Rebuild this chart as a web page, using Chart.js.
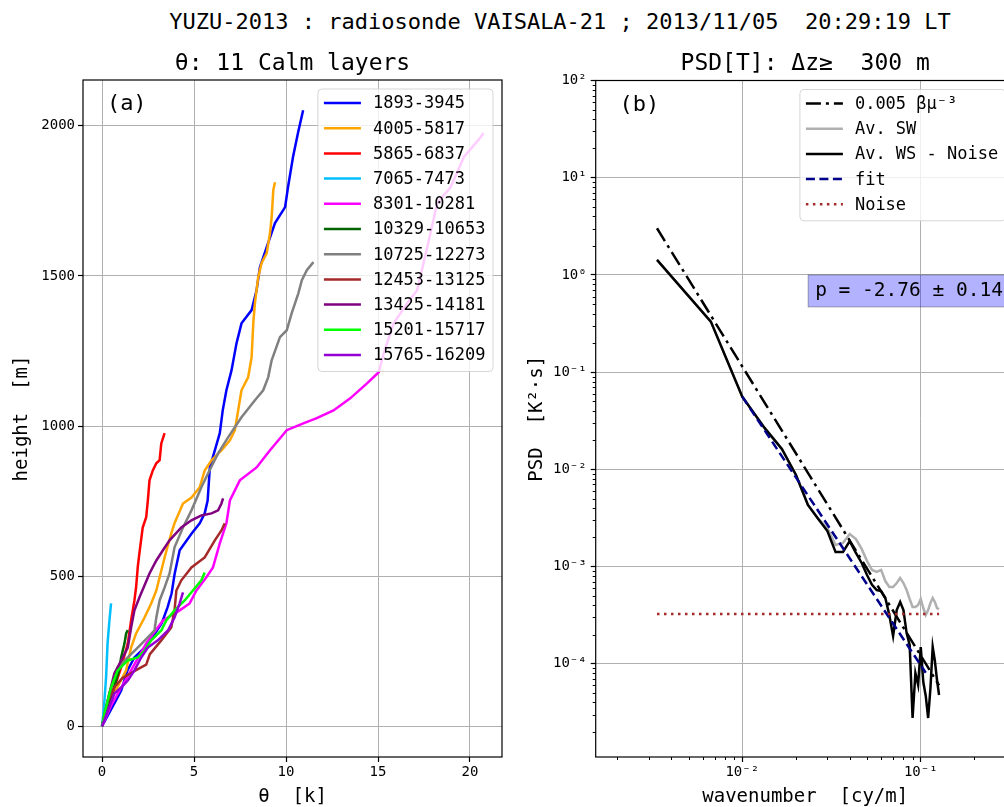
<!DOCTYPE html>
<html lang="en">
<head>
<meta charset="UTF-8">
<title>YUZU-2013 radiosonde VAISALA-21</title>
<script src="https://cdn.jsdelivr.net/npm/chart.js"></script>
<style>
  html, body { margin: 0; padding: 0; background: #fff; overflow: hidden; width: 1004px; height: 807px; }
  #suptitle {
    position: absolute; left: 0; top: 9px; width: 1120px; line-height: 26px;
    text-align: center; white-space: pre; color: #000;
    font: 22px 'DejaVu Sans Mono', monospace;
  }
  #left { position: absolute; left: 0; top: 0; }
  #right { position: absolute; left: 520px; top: 0; }
</style>
</head>
<body>
<div id="suptitle">YUZU-2013 : radiosonde VAISALA-21 ; 2013/11/05  20:29:19 LT</div>
<canvas id="left" width="520" height="807"></canvas>
<canvas id="right" width="520" height="807"></canvas>

<script>
// ---- panel (a): potential temperature excess vs height, one array per calm layer  [theta K, height m]
const layerNames = ['1893-3945', '4005-5817', '5865-6837', '7065-7473', '8301-10281', '10329-10653',
                    '10725-12273', '12453-13125', '13425-14181', '15201-15717', '15765-16209'];
const layerColors = ['#0000ff', '#ffa500', '#ff0000', '#00bfff', '#ff00ff', '#006400',
                     '#808080', '#a52a2a', '#800080', '#00ff00', '#9400d3'];

const layer1893 = [[0,0],[0.35,40],[0.67,76],[1.04,119],[1.38,186],[1.76,229],[2.31,262],[2.74,296],[3.24,342],
  [3.56,396],[3.78,442],[3.95,509],[4.22,586],[4.87,642],[5.31,676],[5.58,709],[5.74,752],[5.86,862],[6.13,919],
  [6.4,976],[6.56,1052],[6.76,1119],[7.04,1186],[7.31,1276],[7.58,1342],[8.13,1386],[8.4,1452],[8.58,1529],
  [8.95,1596],[9.4,1676],[9.95,1729],[10.11,1796],[10.38,1896],[10.65,1976],[10.93,2052]];
const layer4005 = [[0,0],[0.5,90],[1.31,186],[1.58,262],[1.85,309],[2.31,362],[2.67,409],[2.95,452],[3.13,496],
  [3.4,562],[3.76,642],[3.94,676],[4.4,742],[4.86,762],[5.31,796],[5.58,852],[5.95,886],[6.49,919],[6.95,952],
  [7.22,986],[7.31,1019],[7.49,1086],[7.58,1119],[7.94,1162],[8.13,1229],[8.22,1342],[8.31,1409],[8.49,1496],
  [8.67,1542],[8.95,1576],[9.13,1642],[9.22,1696],[9.31,1786],[9.4,1812]];
const layer5865 = [[0,0],[0.3,60],[0.67,129],[1.04,196],[1.4,276],[1.58,352],[1.76,419],[1.85,462],[1.94,529],
  [2.03,576],[2.21,662],[2.4,696],[2.49,752],[2.58,819],[2.76,852],[2.95,876],[3.13,886],[3.22,942],[3.4,976]];
const layer7065 = [[0,0],[0.1,60],[0.22,163],[0.3,276],[0.4,352],[0.49,409]];
const layer8301 = [[0,0],[0.5,70],[0.95,119],[1.67,196],[2.4,276],[3.31,352],[4.22,386],[4.76,409],[5.13,452],
  [5.67,496],[6.03,529],[6.4,609],[6.76,676],[6.95,752],[7.49,819],[8.4,862],[9.13,919],[10.04,986],[10.94,1009],
  [11.67,1026],[12.58,1052],[13.49,1092],[14.4,1142],[15.04,1179],[15.31,1242],[15.85,1342],[16.59,1409],
  [17.13,1452],[17.68,1596],[18.22,1742],[18.95,1796],[19.67,1896],[20.58,1962],[20.73,1976]];
const layer10329 = [[0,0],[0.3,70],[0.6,120],[0.9,180],[1.04,230],[1.22,276],[1.31,309],[1.4,320]];
const layer10725 = [[0,0],[0.4,110],[0.85,196],[1.4,229],[1.94,262],[2.49,296],[2.85,319],[2.95,362],[3.13,419],
  [3.4,462],[3.67,509],[3.94,596],[4.4,662],[4.86,719],[5.4,796],[5.76,842],[6.31,909],[6.85,962],[7.58,1029],
  [8.31,1086],[8.76,1119],[9.03,1162],[9.22,1219],[9.67,1296],[10.04,1319],[10.31,1376],[10.67,1442],
  [10.86,1486],[11.13,1519],[11.49,1546]];
const layer12453 = [[0,0],[0.3,80],[0.67,130],[1.1,160],[1.8,185],[2.4,205],[2.6,240],[3.22,286],[3.76,329],
  [3.94,386],[4.04,452],[4.31,486],[4.86,529],[5.58,562],[6.13,619],[6.49,652],[6.67,676]];
const layer13425 = [[0,0],[0.31,86],[0.67,176],[1.04,219],[1.4,262],[1.58,329],[1.76,386],[2.03,429],[2.58,509],
  [2.95,552],[3.31,586],[3.67,619],[4.31,662],[4.86,686],[5.4,702],[5.95,709],[6.31,719],[6.49,742],[6.58,759]];
const layer15201 = [[0,0],[0.13,42],[0.49,129],[0.85,186],[1.4,219],[1.94,229],[2.31,252],[2.67,286],[3.22,319],
  [3.49,352],[3.94,386],[4.49,419],[4.94,452],[5.4,486],[5.58,512]];
const layer15765 = [[0,0],[0.67,109],[1.04,129],[1.4,152],[1.76,186],[2.13,229],[2.49,262],[3.03,286],[3.58,319],
  [3.94,362],[4.22,409],[4.4,446]];
const layerData = [layer1893, layer4005, layer5865, layer7065, layer8301, layer10329,
                   layer10725, layer12453, layer13425, layer15201, layer15765];

const thetaTicks = [0, 5, 10, 15, 20];
const heightTicks = [0, 500, 1000, 1500, 2000];

// ---- panel (b): temperature spectra
const waveNumber = [0.00333, 0.00667, 0.01, 0.01333, 0.01667, 0.02, 0.02333, 0.02667, 0.03, 0.03333,
  0.03667, 0.04, 0.04333, 0.04667, 0.05, 0.05333, 0.05667, 0.06, 0.06333, 0.06667, 0.07, 0.07333, 0.07667,
  0.08, 0.08333, 0.08667, 0.09, 0.09333, 0.09667, 0.1, 0.10333, 0.10667, 0.11, 0.11333, 0.11667, 0.12,
  0.12333, 0.12667];
const psdWS = [1.43, 0.331, 0.056, 0.0267, 0.0162, 0.00876, 0.0043, 0.00309, 0.00232, 0.00141,
  0.00141, 0.00183, 0.00138, 0.00109, 0.00082, 0.00065, 0.000574, 0.000561, 0.000475, 0.000318,
  0.000193, 0.000357, 0.000432, 0.000357, 0.000207, 0.000156, 2.77e-5, 8.04e-5, 6.05e-5, 0.000149,
  6.5e-5, 4.67e-5, 2.77e-5, 5.63e-5, 0.000149, 0.000107, 6.81e-5, 4.78e-5];
const psdSW = [1.43, 0.331, 0.056, 0.0267, 0.0162, 0.00876, 0.0043, 0.00309, 0.0025, 0.00167,
  0.00175, 0.00216, 0.00192, 0.00152, 0.00114, 0.000923, 0.00088, 0.000923, 0.00071, 0.000617,
  0.000617, 0.000678, 0.000763, 0.000678, 0.000574, 0.000464, 0.000384, 0.000384, 0.000403, 0.000464,
  0.000375, 0.000318, 0.000357, 0.000422, 0.000475, 0.000432, 0.000375, 0.000366];
const refK = [0.00333, 0.12667];
const refPsd = [3.02, 6.0e-5];
const fitK = [0.01, 0.10667];
const fitPsd = [0.056, 8.1e-5];
const noiseK = [0.00333, 0.12667];
const noisePsd = [3.26e-4, 3.26e-4];
const fitSlope = -2.76, fitErr = 0.14;

const kTicks = [0.01, 0.1];
const psdTicks = [1e-4, 1e-3, 1e-2, 1e-1, 1, 10, 100];

// ---------------------------------------------------------------
const MONO = "'DejaVu Sans Mono', monospace";
Chart.defaults.font.family = MONO;
Chart.defaults.color = '#000';

const SUP = {'-': '⁻', '0': '⁰', '1': '¹', '2': '²', '3': '³', '4': '⁴', '5': '⁵', '6': '⁶', '7': '⁷', '8': '⁸', '9': '⁹'};
function powLabel(v) {
  const e = Math.round(Math.log10(v));
  return '10' + String(e).split('').map(c => SUP[c]).join('');
}

// frame, panel title, tag, boxed legend, minor log ticks, annotation
const panelDecor = {
  id: 'panelDecor',
  afterDraw(chart, args, o) {
    const {ctx, chartArea: a} = chart;
    const w = a.right - a.left, h = a.bottom - a.top;
    ctx.save();

    if (o.minor) {
      ctx.strokeStyle = '#000';
      ctx.lineWidth = 1;
      ['x', 'y'].forEach(id => {
        const s = chart.scales[id];
        const e0 = Math.floor(Math.log10(s.min)), e1 = Math.ceil(Math.log10(s.max));
        for (let e = e0; e <= e1; e++) {
          for (let m = 2; m <= 9; m++) {
            const v = m * Math.pow(10, e);
            if (v < s.min || v > s.max) continue;
            const p = Math.round(s.getPixelForValue(v)) + 0.5;
            ctx.beginPath();
            if (id === 'x') { ctx.moveTo(p, a.bottom); ctx.lineTo(p, a.bottom + 3); }
            else { ctx.moveTo(a.left, p); ctx.lineTo(a.left - 3, p); }
            ctx.stroke();
          }
        }
      });
    }

    ctx.strokeStyle = '#000';
    ctx.lineWidth = 1.2;
    ctx.strokeRect(a.left, a.top, w, h);

    ctx.fillStyle = '#000';
    ctx.textBaseline = 'middle';
    ctx.textAlign = 'center';
    ctx.font = '23px ' + MONO;
    ctx.fillText(o.title, (a.left + a.right) / 2, a.top - 16);

    ctx.textAlign = 'left';
    ctx.font = '22px ' + MONO;
    ctx.fillText(o.tag, a.left + 0.057 * w, a.top + 0.036 * h);

    if (o.note) {
      ctx.font = '19.5px ' + MONO;
      const bx = a.left + o.note.fx * w, by = a.top + o.note.fy * h;
      const tw = ctx.measureText(o.note.text).width;
      ctx.fillStyle = 'rgba(0,0,255,0.3)';
      ctx.fillRect(bx, by, tw + 14, 32);
      ctx.strokeStyle = 'rgba(0,0,0,0.3)';
      ctx.lineWidth = 1;
      ctx.strokeRect(bx, by, tw + 14, 32);
      ctx.fillStyle = '#000';
      ctx.fillText(o.note.text, bx + 7, by + 16);
    }

    // legend box in the upper right corner of the axes
    const ds = chart.data.datasets;
    ctx.font = '17px ' + MONO;
    const textW = Math.max(...ds.map(d => ctx.measureText(d.label).width));
    const row = 25.2, lineLen = 37;
    const right = a.right - 9, top = a.top + 9;
    const left = right - (6 + lineLen + 12 + textW + 7.5);
    const bottom = top + 14 + row * (ds.length - 1) + 16.5;
    ctx.fillStyle = 'rgba(255,255,255,0.8)';
    ctx.strokeStyle = 'rgba(204,204,204,0.8)';
    ctx.lineWidth = 1;
    ctx.beginPath();
    ctx.roundRect(left, top, right - left, bottom - top, 4);
    ctx.fill();
    ctx.stroke();
    ds.forEach((d, i) => {
      const y = top + 14 + i * row;
      ctx.strokeStyle = d.borderColor;
      ctx.lineWidth = d.borderWidth;
      ctx.setLineDash(d.borderDash || []);
      ctx.beginPath();
      ctx.moveTo(left + 6, y);
      ctx.lineTo(left + 6 + lineLen, y);
      ctx.stroke();
      ctx.setLineDash([]);
      ctx.fillStyle = '#000';
      ctx.fillText(d.label, left + 6 + lineLen + 12, y + 1);
    });
    ctx.restore();
  }
};

function fixedTicks(list) {
  return s => { s.ticks = list.map(v => ({value: v})); };
}
const gridOpts = {color: '#b0b0b0', lineWidth: 1, tickColor: '#000', tickLength: 5, tickWidth: 1.2};

// ---- panel (a)
new Chart(document.getElementById('left'), {
  type: 'line',
  data: {
    datasets: layerData.map((pts, i) => ({
      label: layerNames[i],
      data: pts,
      borderColor: layerColors[i],
      backgroundColor: layerColors[i],
      borderWidth: 2.5,
      pointRadius: 0,
      tension: 0,
      fill: false,
      order: layerData.length - i
    }))
  },
  options: {
    responsive: false,
    animation: false,
    layout: {padding: {top: 80, right: 18, left: 0, bottom: 0}},
    plugins: {
      legend: {display: false},
      tooltip: {enabled: false},
      panelDecor: {title: 'θ: 11 Calm layers', tag: '(a)'}
    },
    scales: {
      x: {
        type: 'linear', min: -1.035, max: 21.74,
        afterBuildTicks: fixedTicks(thetaTicks),
        afterFit: s => { s.height = 50; },
        grid: gridOpts,
        border: {display: false},
        ticks: {font: {size: 14}, padding: 2, maxRotation: 0, callback: v => String(v)},
        title: {display: true, text: 'θ  [k]', font: {size: 19, lineHeight: 1.0}, padding: 0}
      },
      y: {
        type: 'linear', min: -102.5, max: 2152.5,
        afterBuildTicks: fixedTicks(heightTicks),
        afterFit: s => { s.width = 83; },
        grid: gridOpts,
        border: {display: false},
        ticks: {font: {size: 14}, padding: 3, callback: v => String(v)},
        title: {display: true, text: 'height  [m]', font: {size: 19, lineHeight: 1.0}, padding: {top: 12.5, bottom: 0}}
      }
    }
  },
  plugins: [panelDecor]
});

// ---- panel (b)
const xy = (ks, ps) => ks.map((k, i) => ({x: k, y: ps[i]}));
new Chart(document.getElementById('right'), {
  type: 'line',
  data: {
    datasets: [
      {label: '0.005 βμ⁻³', data: xy(refK, refPsd), borderColor: '#000', borderWidth: 2.5, borderDash: [15, 5, 3, 5], order: 5},
      {label: 'Av. SW', data: xy(waveNumber, psdSW), borderColor: '#b0b0b0', borderWidth: 2.5, order: 4},
      {label: 'Av. WS - Noise', data: xy(waveNumber, psdWS), borderColor: '#000', borderWidth: 2.5, order: 3},
      {label: 'fit', data: xy(fitK, fitPsd), borderColor: '#00008b', borderWidth: 2.5, borderDash: [9, 4.5], order: 2},
      {label: 'Noise', data: xy(noiseK, noisePsd), borderColor: '#a52a2a', borderWidth: 2.5, borderDash: [2.5, 4.5], order: 1}
    ].map(d => Object.assign(d, {pointRadius: 0, tension: 0, fill: false}))
  },
  options: {
    responsive: false,
    animation: false,
    layout: {padding: {top: 80.5, right: 25.3, left: 0, bottom: 0}},
    plugins: {
      legend: {display: false},
      tooltip: {enabled: false},
      panelDecor: {
        title: 'PSD[T]: Δz≥  300 m', tag: '(b)', minor: true,
        note: {text: 'p = ' + fitSlope.toFixed(2) + ' ± ' + fitErr.toFixed(2), fx: 0.507, fy: 0.2874}
      }
    },
    scales: {
      x: {
        type: 'logarithmic', min: 0.00151, max: 0.336,
        afterBuildTicks: fixedTicks(kTicks),
        afterFit: s => { s.height = 50; },
        grid: gridOpts,
        border: {display: false},
        ticks: {font: {size: 14}, padding: 2, maxRotation: 0, callback: v => powLabel(v)},
        title: {display: true, text: 'wavenumber  [cy/m]', font: {size: 19, lineHeight: 1.0}, padding: 0}
      },
      y: {
        type: 'logarithmic', min: 1.1e-5, max: 100,
        afterBuildTicks: fixedTicks(psdTicks),
        afterFit: s => { s.width = 75.7; },
        grid: gridOpts,
        border: {display: false},
        ticks: {font: {size: 14}, padding: 4, callback: v => powLabel(v)},
        title: {display: true, text: 'PSD  [K²·s]', font: {size: 19, lineHeight: 1.0}, padding: {top: 7.5, bottom: 0}}
      }
    }
  },
  plugins: [panelDecor]
});
</script>
</body>
</html>
